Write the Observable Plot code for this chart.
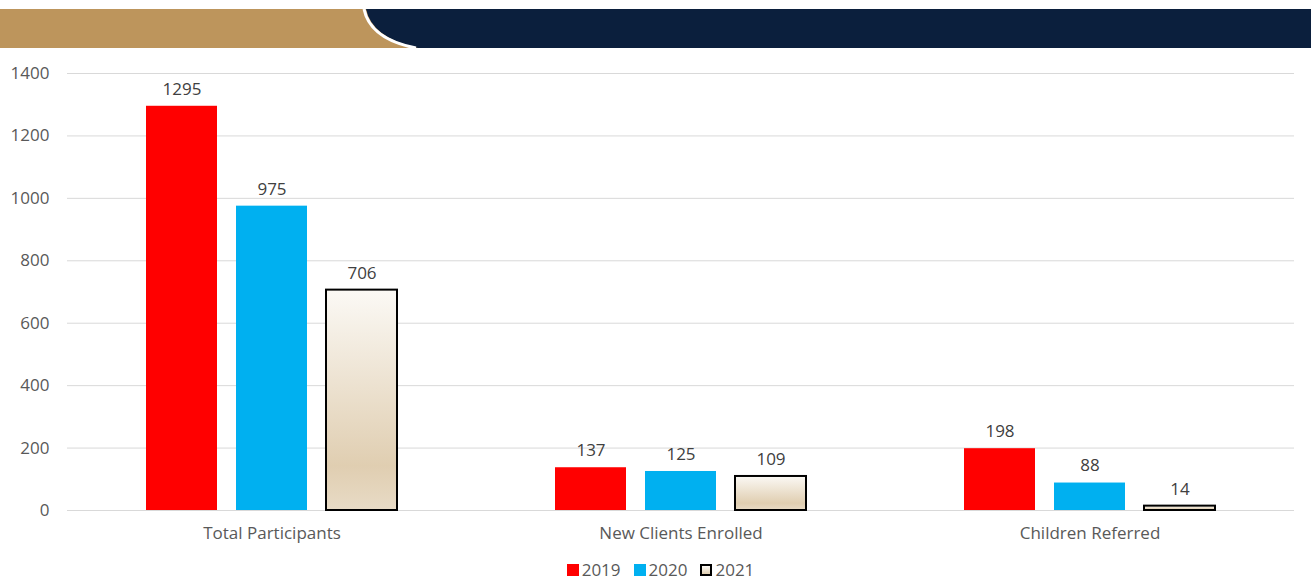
<!DOCTYPE html>
<html>
<head>
<meta charset="utf-8">
<script src="https://cdn.jsdelivr.net/npm/d3@7"></script>
<script src="https://cdn.jsdelivr.net/npm/@observablehq/plot@0.6"></script>
<style>
  body { margin: 0; background: #fff; font-family: "Open Sans", sans-serif; }
  #banner { display: block; margin-top: 0; }
  #legend { display: flex; justify-content: center; gap: 13px; font-size: 17px; color: #595959; margin-top: 12px; padding-left: 10px; line-height: 20px; }
  #legend span.item { display: inline-flex; align-items: center; gap: 3px; }
  #legend span.sw { display: inline-block; width: 12px; height: 12px; box-sizing: border-box; }
</style>
</head>
<body>
<svg id="banner" width="1311" height="48" xmlns="http://www.w3.org/2000/svg">
  <rect x="0" y="9" width="1311" height="39" fill="#bd955c"/>
  <path d="M 366 9 Q 372 38 418 48 L 1311 48 L 1311 9 Z" fill="#0b1f3d"/>
  <path d="M 364 9 Q 370 39 416 48" fill="none" stroke="#ffffff" stroke-width="3"/>
</svg>
<div id="chart"></div>
<div id="legend"></div>
<script>
const categories = ["Total Participants", "New Clients Enrolled", "Children Referred"];
const years = ["2019", "2020", "2021"];
const values2019 = [1295, 137, 198];
const values2020 = [975, 125, 88];
const values2021 = [706, 109, 14];
const yTicks = [0, 200, 400, 600, 800, 1000, 1200, 1400];
const yearColors = ["#ff0000", "#00b0f0", "url(#grad2021)"];

const series = [values2019, values2020, values2021];
const data = [];
categories.forEach((c, i) => years.forEach((y, j) => data.push({category: c, year: y, value: series[j][i]})));

const chart = Plot.plot({
  width: 1311,
  height: 500,
  marginTop: 25,
  marginBottom: 38,
  marginLeft: 66,
  marginRight: 16,
  style: {fontFamily: "'Open Sans', sans-serif", fontSize: "17px", color: "#595959", background: "transparent"},
  fx: {domain: categories, padding: 0, label: null, axis: "bottom", tickSize: 0, tickPadding: 16},
  x: {domain: years, paddingInner: 0.215, paddingOuter: 0.872, axis: null},
  y: {domain: [0, 1400], ticks: yTicks, label: null, tickSize: 0, tickPadding: 18, grid: false},
  color: {domain: years, range: yearColors},
  marks: [
    Plot.ruleY(yTicks, {stroke: "#d9d9d9", strokeWidth: 1, facet: "exclude"}),
    Plot.axisY({ticks: yTicks, tickFormat: "d", tickSize: 0, tickPadding: 18, label: null, fontSize: 17}),
    Plot.barY(data, {fx: "category", x: "year", y: "value", fill: "year",
      stroke: d => d.year === "2021" ? "#000000" : "none", strokeWidth: 2}),
    Plot.text(data, {fx: "category", x: "year", y: "value", text: d => String(d.value), dy: -17, fill: "#404040", fontSize: 17})
  ]
});

// gradient definition for the 2021 bars
const ns = "http://www.w3.org/2000/svg";
const defs = document.createElementNS(ns, "defs");
defs.innerHTML = `<linearGradient id="grad2021" x1="0" y1="0" x2="0" y2="1">
  <stop offset="0" stop-color="#fbf9f5"/>
  <stop offset="0.8" stop-color="#e0ceb1"/>
  <stop offset="1" stop-color="#e8dbc6"/>
</linearGradient>`;
chart.insertBefore(defs, chart.firstChild);
document.getElementById("chart").appendChild(chart);

const legend = document.getElementById("legend");
years.forEach((y, j) => {
  const item = document.createElement("span");
  item.className = "item";
  const sw = document.createElement("span");
  sw.className = "sw";
  if (j === 2) { sw.style.background = "linear-gradient(#fbf9f5, #e0ceb1)"; sw.style.border = "2px solid #000"; }
  else sw.style.background = yearColors[j];
  item.appendChild(sw);
  item.appendChild(document.createTextNode(y));
  legend.appendChild(item);
});
</script>
</body>
</html>
